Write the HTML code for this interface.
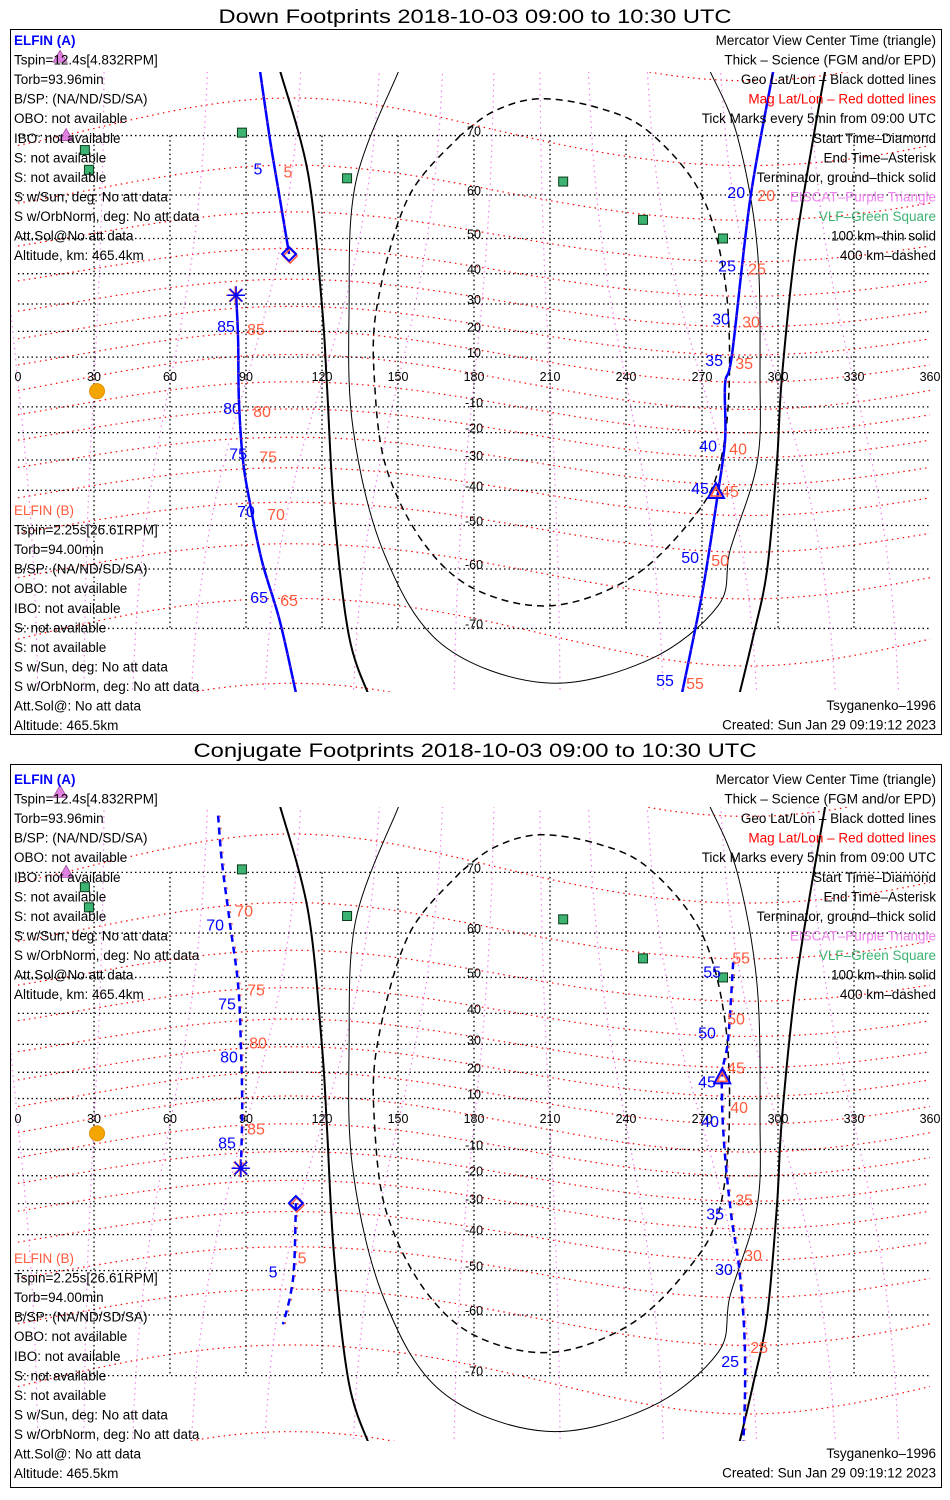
<!DOCTYPE html>
<html><head><meta charset="utf-8">
<style>
html,body{margin:0;padding:0;background:#fff;}
svg{display:block;font-family:"Liberation Sans",sans-serif;}
</style></head>
<body>
<svg id="chart" width="950" height="1500" viewBox="0 0 950 1500" xmlns="http://www.w3.org/2000/svg">
<defs>
<clipPath id="clipA"><rect x="11" y="72" width="929" height="620"/></clipPath>
<clipPath id="clipB"><rect x="11" y="807" width="929" height="634"/></clipPath>
</defs>
<text x="475" y="23" text-anchor="middle" font-size="19" textLength="513" lengthAdjust="spacingAndGlyphs">Down Footprints 2018-10-03 09:00 to 10:30 UTC</text>
<text x="475" y="757" text-anchor="middle" font-size="19" textLength="563" lengthAdjust="spacingAndGlyphs">Conjugate Footprints 2018-10-03 09:00 to 10:30 UTC</text>
<rect x="10.5" y="29.5" width="931" height="705" fill="none" stroke="#000" stroke-width="1"/>
<rect x="10.5" y="764.5" width="931" height="723" fill="none" stroke="#000" stroke-width="1"/>
<g id="layer"></g>
</svg>
<script>
// ---------- data ----------
const lonTicks = [0,30,60,90,120,150,180,210,240,270,300,330,360];
const latTicks = [70,60,50,40,30,20,10,-10,-20,-30,-40,-50,-60,-70];
const magLats = [-80,-70,-60,-50,-40,-30,-20,-10,0,10,20,30,40,50,60,70,80];
const magLons = [0,30,60,90,120,150,180,210,240,270,300,330];
// terminator (ground) curves
const termLeftLon = [103.4,114.5,120,122,124.8,130.7,139];
const termLeftLat = [77.3,64.0,29.3,-2.4,-46.4,-71.1,-77.7];
const termRightLon = [318.6,307.5,301.6,299.6,295.7,290.2,283.9];
const termRightLat = [77.2,50.4,2.8,-30.4,-60.2,-71.1,-78.1];
// 100 km (thin) and 400 km (dashed) contours
const thinLon = [150.4,133.4,130.7,132.3,144.5,167.4,208.4,249.1,276.4,281.1,291.7,292.9,291.7,283.9,273.2];
const thinLat = [77.3,62.6,29.3,-18.8,-56.7,-72.1,-76.3,-73.9,-66.6,-56,-31.2,2.4,48.3,70,77.2];
const dashLon = [174.5,154,141.7,140.9,145.7,160.7,181.2,211.2,242.4,265.7,276.4,280.7,279.1,269.6,249.1,229,205.7,187.9,174.5];
const dashLat = [70,59.4,29.3,-2.4,-33.6,-54.8,-64,-66.6,-61.6,-48.6,-33.6,-2.4,37.5,60.2,70.5,73.5,74.5,73.1,70];
// VLF stations, EISCAT, Sun
const vlfLon = [88.4,26.4,28,129.9,215.2,246.7,278.3];
const vlfLat = [70.4,67.9,64.7,63.2,62.6,54.6,50];
const eiscatLon = [16.6,19];
const eiscatLat = [78.4,70];
const sunLon = [31.2];
const sunLat = [-3.7];
// Down footprints (panel A)
const downSeg1Lon = [95.5,99.4,103.4,107];
const downSeg1Lat = [77.3,69.6,59.2,45.8];
const downSeg2Lon = [298.1,289,281.9,279.1,279.1,276,270,261.3];
const downSeg2Lat = [77.2,59,11.3,-0.8,-22.8,-42.3,-64.7,-78.1];
const downSeg3Lon = [109.7,103.4,96.3,91.6,88.8,87.2,86.9,86.1];
const downSeg3Lat = [-77.2,-69,-58.4,-44,-30.2,-7.3,16.8,33];
const downTickText = ["5","20","25","30","35","40","45","50","55","85","80","75","70","65"];
const downTickLon = [94.7,283.5,279.9,277.5,274.8,272.4,269.2,265.3,255.4,82.1,84.5,86.9,90,95.2];
const downTickLat = [64.9,60.6,42.5,24.8,8.9,-24.8,-39.2,-57.5,-76,22,-10.5,-27.7,-46.1,-65.2];
const downStart = [107,45.8], downEnd = [86.1,33], downCenter = [275.5,-40.5];
// Conjugate footprints (panel B)
const conjSeg1Lon = [79,80.5,83.7,86.9,88,88.5,88];
const conjSeg1Lat = [76.4,71.4,61.8,48.1,29.1,6.1,-17.2];
const conjSeg2Lon = [109.7,109,107.4,104.6];
const conjSeg2Lat = [-29.8,-48.9,-56.2,-61.8];
const conjSeg3Lon = [282.3,280.3,277.9,278.7,281.5,284.6,286.6,287,286.2];
const conjSeg3Lat = [53.7,31.6,18.1,-7.3,-33.6,-48.9,-62.4,-71.6,-77.9];
const conjTickText = ["70","75","80","85","5","55","50","45","40","35","30","25"];
const conjTickLon = [77.8,82.5,83.3,82.5,100.7,274,272,272,273.2,275.2,278.7,281.1];
const conjTickLat = [61.6,42.9,25.8,-7.3,-50.3,51.5,34,16.5,1.2,-33.3,-49.6,-67.9];
const conjStart = [109.7,-29.8], conjEnd = [88,-17.2], conjCenter = [278,18.1];
// text blocks
const leftA = ["ELFIN (A)","Tspin=12.4s[4.832RPM]","Torb=93.96min","B/SP: (NA/ND/SD/SA)","OBO: not available","IBO: not available","S: not available","S: not available","S w/Sun, deg: No att data","S w/OrbNorm, deg: No att data","Att.Sol@No att data","Altitude, km: 465.4km"];
const leftB = ["ELFIN (B)","Tspin=2.25s[26.61RPM]","Torb=94.00min","B/SP: (NA/ND/SD/SA)","OBO: not available","IBO: not available","S: not available","S: not available","S w/Sun, deg: No att data","S w/OrbNorm, deg: No att data","Att.Sol@: No att data","Altitude: 465.5km"];
const legendText = ["Mercator View Center Time (triangle)","Thick \u2013 Science (FGM and/or EPD)","Geo Lat/Lon \u2013 Black dotted lines","Mag Lat/Lon \u2013 Red dotted lines","Tick Marks every 5min from 09:00 UTC","Start Time\u2013Diamond","End Time\u2013Asterisk","Terminator, ground\u2013thick solid","EISCAT\u2013Purple Triangle","VLF\u2013Green Square","100 km\u2013thin solid","400 km\u2013dashed"];
const legendColor = ["#000","#000","#000","#ff0000","#000","#000","#000","#000","#ee82ee","#3cb371","#000","#000"];

// ---------- drawing ----------
const NS = "http://www.w3.org/2000/svg";
const root = document.getElementById("layer");
const BLUE = "#0000ff", ORANGE = "#ff5a3c";
function mk(tag, parent, attrs){
  const e = document.createElementNS(NS, tag);
  for (const k in attrs) e.setAttribute(k, attrs[k]);
  parent.appendChild(e);
  return e;
}
function X(lon){ return 18 + lon * 912 / 360; }
function mercY(lat, p){ return p.eq - p.k * Math.log(Math.tan(Math.PI/4 + lat*Math.PI/360)); }
function smooth(lons, lats, p){
  const pts = lons.map((lo,i)=>[X(lo), mercY(lats[i],p)]);
  let d = "M"+pts[0][0].toFixed(1)+","+pts[0][1].toFixed(1);
  for (let i=0;i<pts.length-1;i++){
    const p0 = pts[Math.max(0,i-1)], p1 = pts[i], p2 = pts[i+1], p3 = pts[Math.min(pts.length-1,i+2)];
    const c1 = [p1[0]+(p2[0]-p0[0])/6, p1[1]+(p2[1]-p0[1])/6];
    const c2 = [p2[0]-(p3[0]-p1[0])/6, p2[1]-(p3[1]-p1[1])/6];
    d += " C"+c1.map(v=>v.toFixed(1)).join(",")+" "+c2.map(v=>v.toFixed(1)).join(",")+" "+p2.map(v=>v.toFixed(1)).join(",");
  }
  return d;
}
function textLine(parent, x, y, str, anchor, color, size){
  const t = mk("text", parent, {x:x, y:y, "text-anchor":anchor, fill:color, "font-size":size});
  t.textContent = str;
  return t;
}

function drawPanel(p){
  const g = mk("g", root, {});
  
  
  const map = mk("g", g, {"clip-path":"url(#"+p.clip+")"});
  
  

  magLats.forEach(ml=>{
    const lons=[], lats=[];
    for (let lo=0; lo<=360; lo+=10){ lons.push(lo); lats.push(Math.max(-85,Math.min(85, ml + 11*Math.cos((lo-108)*Math.PI/180)*(1-Math.abs(ml)/120)))); }
    const e = mk("path", map, {d:smooth(lons,lats,p), fill:"none", stroke:"#ff0000", "stroke-width":1.2, "stroke-dasharray":"1.5 4"});
    
    
  });
  magLons.forEach(L=>{
    const lons=[], lats=[];
    for (let la=-80; la<=80; la+=10){ lats.push(la); lons.push(L + 0.3*la*Math.sin((L-20)*Math.PI/180)); }
    const e = mk("path", map, {d:smooth(lons,lats,p), fill:"none", stroke:"#ee82ee", "stroke-width":1.2, "stroke-dasharray":"1.5 4"});
    
    
  });
  latTicks.forEach(la=>{
    const y = mercY(la,p);
    const e = mk("line", map, {x1:18, x2:930, y1:y, y2:y, stroke:"#000", "stroke-width":1.3, "stroke-dasharray":"1.5 3"});
    
    
    const t = textLine(map, X(180), y, String(la), "middle", "#000", 12.5);
    
    
  });
  lonTicks.forEach(lo=>{
    if (lo>0 && lo<360){
      const e = mk("line", map, {x1:X(lo), x2:X(lo), y1:mercY(70,p), y2:mercY(-70,p), stroke:"#000", "stroke-width":1.3, "stroke-dasharray":"1.5 3"});
      
      
    }
    const t = textLine(map, X(lo), mercY(0,p)-1, String(lo), "middle", "#000", 12.5);
    
    
  });
  [[termLeftLon,termLeftLat],[termRightLon,termRightLat]].forEach(c=>{
    const e = mk("path", map, {d:smooth(c[0],c[1],p), fill:"none", stroke:"#000", "stroke-width":2});
    
    
  });
  const thin = mk("path", map, {d:smooth(thinLon,thinLat,p), fill:"none", stroke:"#000", "stroke-width":1});
  
  
  const dash = mk("path", map, {d:smooth(dashLon,dashLat,p), fill:"none", stroke:"#000", "stroke-width":1.5, "stroke-dasharray":"7 5"});
  
  
  vlfLon.forEach((lo,i)=>{
    const x=X(lo), y=mercY(vlfLat[i],p);
    const e = mk("rect", map, {x:x-4.5, y:y-4.5, width:9, height:9, fill:"#3cb371", stroke:"#0a3a1a", "stroke-width":1});
    
    
  });
  const sx = X(sunLon[0]), sy = mercY(sunLat[0],p);
  const sun = mk("circle", map, {cx:sx, cy:sy, r:7.5, fill:"#f5a500", stroke:"#e59000"});
  
  
  p.segs.forEach(s=>{
    const d = smooth(s[0], s[1], p);
    const e = mk("path", map, {d:d, fill:"none", stroke:BLUE, "stroke-width":2.5, "stroke-dasharray":p.dashed?"7 5":"none"});
    
    
    const o = mk("path", map, {d:d, fill:"none", stroke:ORANGE, "stroke-width":1, "stroke-dasharray":p.dashed?"2 10":"1 12", transform:p.dashed?"translate(2,0)":""});
    
    
  });
  p.tickText.forEach((txt,i)=>{
    const x = X(p.tickLon[i]), y = mercY(p.tickLat[i],p);
    const a = textLine(map, x, y+6, txt, "middle", BLUE, 16);
    
    
    const b = textLine(map, x+p.ox, y+6+p.oy, txt, "middle", ORANGE, 16);
    
    
  });
  const dx=X(p.start[0]), dy=mercY(p.start[1],p);
  const d2 = mk("path", map, {d:`M${dx},${dy-7} L${dx+7},${dy} L${dx},${dy+7} L${dx-7},${dy} Z`, fill:"none", stroke:ORANGE, "stroke-width":1.5, transform:"translate(1,2)"});
  
  
  const d1 = mk("path", map, {d:`M${dx},${dy-7} L${dx+7},${dy} L${dx},${dy+7} L${dx-7},${dy} Z`, fill:"none", stroke:BLUE, "stroke-width":2});
  
  
  const ax=X(p.end[0]), ay=mercY(p.end[1],p);
  let ad=""; for (let k=0;k<4;k++){ const an=k*Math.PI/4; ad+=`M${ax-9*Math.cos(an)},${ay-9*Math.sin(an)} L${ax+9*Math.cos(an)},${ay+9*Math.sin(an)} `; }
  const ast2 = mk("path", map, {d:ad, stroke:ORANGE, "stroke-width":1.2, transform:"translate(-1,0)"});
  
  
  const ast = mk("path", map, {d:ad, stroke:BLUE, "stroke-width":1.5});
  
  
  const tx=X(p.center[0]), ty=mercY(p.center[1],p);
  const tr = mk("path", map, {d:`M${tx},${ty-9} L${tx+8},${ty+6} L${tx-8},${ty+6} Z`, fill:"none", stroke:BLUE, "stroke-width":2});
  
  
  const tr2 = mk("path", map, {d:`M${tx},${ty-5} L${tx+5},${ty+4} L${tx-5},${ty+4} Z`, fill:"none", stroke:ORANGE, "stroke-width":1.5});
  
  
  eiscatLon.forEach((lo,i)=>{
    const x=X(lo), y=mercY(eiscatLat[i],p);
    const e = mk("path", g, {d:`M${x},${y-7} L${x+7},${y+5} L${x-7},${y+5} Z`, fill:"#e080e0", stroke:"#a050a0", "stroke-width":0.8});
    
    
  });
  leftA.forEach((s,i)=>{
    const t = textLine(g, 14, p.aBase + i*19.55, s, "start", i===0?BLUE:"#000", 13.5);
    
    
    if (i===0) t.setAttribute("font-weight","bold");
  });
  leftB.forEach((s,i)=>{
    const t = textLine(g, 14, p.bBase + i*19.55, s, "start", i===0?ORANGE:"#000", 13.5);
    
    
  });
  legendText.forEach((s,i)=>{
    const t = textLine(g, 936, p.aBase + i*19.55, s, "end", legendColor[i], 13.5);
    
    
  });
  const f1 = textLine(g, 936, p.fBase, "Tsyganenko\u20131996", "end", "#000", 13.5);
  
  
  const f2 = textLine(g, 936, p.fBase+19.5, "Created: Sun Jan 29 09:19:12 2023", "end", "#000", 13.5);
  
  
}

drawPanel({name:"down-footprints-panel", clip:"clipA", eq:382, k:142, dashed:false,
  segs:[[downSeg1Lon,downSeg1Lat],[downSeg2Lon,downSeg2Lat],[downSeg3Lon,downSeg3Lat]],
  tickText:downTickText, tickLon:downTickLon, tickLat:downTickLat, ox:30, oy:3,
  start:downStart, end:downEnd, center:downCenter, aBase:45, bBase:515, fBase:710});
drawPanel({name:"conjugate-footprints-panel", clip:"clipB", eq:1124, k:145, dashed:true,
  segs:[[conjSeg1Lon,conjSeg1Lat],[conjSeg2Lon,conjSeg2Lat],[conjSeg3Lon,conjSeg3Lat]],
  tickText:conjTickText, tickLon:conjTickLon, tickLat:conjTickLat, ox:29, oy:-14,
  start:conjStart, end:conjEnd, center:conjCenter, aBase:784, bBase:1263, fBase:1458});
</script>
</body></html>
